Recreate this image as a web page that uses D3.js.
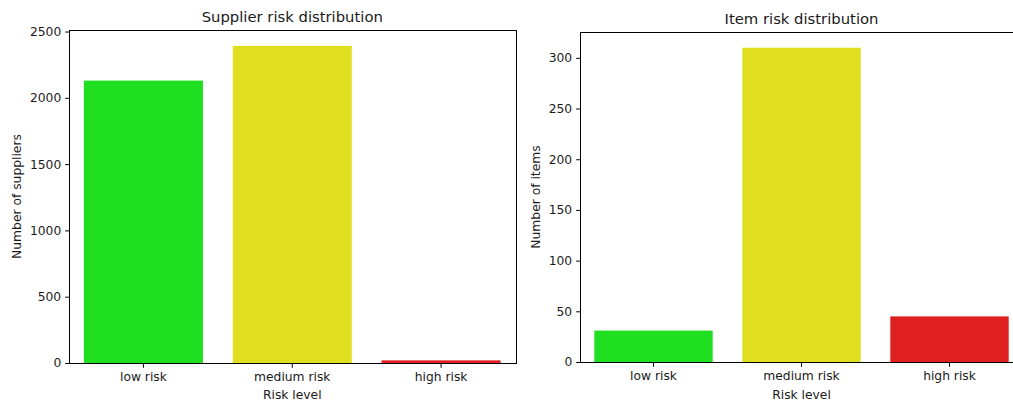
<!DOCTYPE html>
<html><head><meta charset="utf-8">
<script src="https://cdn.jsdelivr.net/npm/d3@7"></script>
<style>body{margin:0;background:#fff;overflow:hidden}svg{display:block}text{font-family:"DejaVu Sans",sans-serif;fill:#1a1a1a}</style>
</head><body><svg id="c" width="1013" height="403"></svg>
<script>
const categories = ["low risk", "medium risk", "high risk"];
const colors = ["#20df20", "#dfdf20", "#df2020"];
const supplierCounts = [2130, 2392, 20];
const itemCounts = [31, 310, 45];
const supplierTicks = [0, 500, 1000, 1500, 2000, 2500];
const itemTicks = [0, 50, 100, 150, 200, 250, 300];

const svg = d3.select("#c");
const fs = 12.3;

function panel(o) {
  const g = svg.append("g");
  const x = d3.scaleBand().domain(categories).range([o.x0, o.x1]).paddingInner(0.2).paddingOuter(0.1);
  const y = d3.scaleLinear().domain([0, d3.max(o.values) * 1.05]).range([o.y1, o.y0]);
  g.selectAll("rect.bar").data(o.values).join("rect").attr("class", "bar")
    .attr("x", (d, i) => x(categories[i])).attr("width", x.bandwidth())
    .attr("y", d => y(d)).attr("height", d => y(0) - y(d))
    .attr("fill", (d, i) => colors[i]);
  // spines
  g.append("rect").attr("x", Math.round(o.x0) + 0.5).attr("y", Math.round(o.y0) + 0.5)
    .attr("width", Math.round(o.x1 - o.x0)).attr("height", Math.round(o.y1 - o.y0))
    .attr("fill", "none").attr("stroke", "#000").attr("stroke-width", 1);
  // y axis
  const ya = g.append("g").attr("transform", `translate(${Math.round(o.x0) + 0.5},0)`)
    .call(d3.axisLeft(y).tickValues(o.ticks).tickSize(4.3).tickPadding(4).tickFormat(d3.format("d")));
  ya.select(".domain").remove();
  ya.selectAll("text").attr("font-size", fs).attr("font-family", "DejaVu Sans").attr("fill", "#1a1a1a");
  ya.selectAll(".tick line").attr("stroke", "#000");
  // x axis
  const xa = g.append("g").attr("transform", `translate(0,${Math.round(o.y1) + 0.5})`)
    .call(d3.axisBottom(x).tickSize(4.3).tickPadding(4));
  xa.select(".domain").remove();
  xa.selectAll("text").attr("font-size", fs).attr("font-family", "DejaVu Sans").attr("fill", "#1a1a1a");
  xa.selectAll(".tick line").attr("stroke", "#000");
  // title
  const cx = (o.x0 + o.x1) / 2;
  g.append("text").attr("x", cx).attr("y", o.titleY).attr("text-anchor", "middle")
    .attr("font-size", 14.8).text(o.title);
  g.append("text").attr("x", cx).attr("y", 399).attr("text-anchor", "middle")
    .attr("font-size", fs).text("Risk level");
  g.append("text").attr("transform", `translate(${o.ylabX},${(o.y0 + o.y1) / 2}) rotate(-90)`)
    .attr("text-anchor", "middle").attr("font-size", fs).text(o.ylabel);
}

panel({x0: 69, x1: 515.5, y0: 30, y1: 363, values: supplierCounts, ticks: supplierTicks,
  title: "Supplier risk distribution", titleY: 22, ylabel: "Number of suppliers", ylabX: 20.5});
panel({x0: 579.5, x1: 1023.5, y0: 32, y1: 362, values: itemCounts, ticks: itemTicks,
  title: "Item risk distribution", titleY: 24, ylabel: "Number of items", ylabX: 539.5});
</script></body></html>
